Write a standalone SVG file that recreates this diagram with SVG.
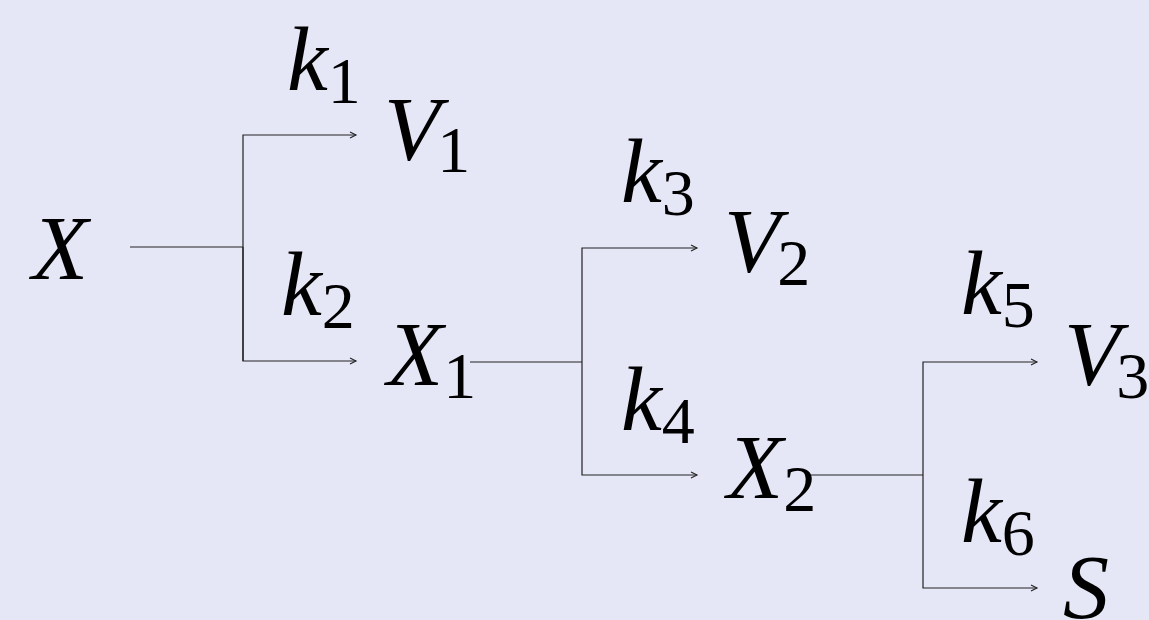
<svg xmlns="http://www.w3.org/2000/svg" width="1149" height="620" viewBox="0 0 1149 620">
<defs>
<marker id="ah" markerWidth="10" markerHeight="10" refX="7" refY="4" orient="auto" markerUnits="userSpaceOnUse">
<path d="M1,1 L7,4 L1,7" fill="none" stroke="#222" stroke-width="1.1"/>
</marker>
</defs>
<rect width="1149" height="620" fill="#e5e6f6"/>
<g id="connectors" fill="none" stroke="#222" stroke-width="1.2">
<path d="M130,247 H243"/>
<path d="M243,361 V135 H356" marker-end="url(#ah)"/>
<path d="M243,247 V361 H356" marker-end="url(#ah)"/>
<path d="M470,362 H582"/>
<path d="M582,362 V248 H697" marker-end="url(#ah)"/>
<path d="M582,362 V475 H697" marker-end="url(#ah)"/>
<path d="M810,475 H923"/>
<path d="M923,475 V362 H1037" marker-end="url(#ah)"/>
<path d="M923,475 V588 H1037" marker-end="url(#ah)"/>
</g>
<g id="node-X"><text x="32" y="279" font-family="Liberation Serif" font-style="italic" font-size="92">X</text></g>
<g id="label-k1"><text x="287" y="90" font-family="Liberation Serif" font-style="italic" font-size="92">k<tspan font-style="normal" font-size="66" dy="13">1</tspan></text></g>
<g id="node-V1"><text x="384" y="160" font-family="Liberation Serif" font-style="italic" font-size="92">V<tspan font-style="normal" font-size="66" dx="-3" dy="12">1</tspan></text></g>
<g id="label-k2"><text x="281" y="315" font-family="Liberation Serif" font-style="italic" font-size="92">k<tspan font-style="normal" font-size="66" dy="13">2</tspan></text></g>
<g id="node-X1"><text x="387" y="385" font-family="Liberation Serif" font-style="italic" font-size="92">X<tspan font-style="normal" font-size="66" dy="13">1</tspan></text></g>
<g id="label-k3"><text x="621" y="202" font-family="Liberation Serif" font-style="italic" font-size="92">k<tspan font-style="normal" font-size="66" dy="13">3</tspan></text></g>
<g id="node-V2"><text x="724" y="272" font-family="Liberation Serif" font-style="italic" font-size="92">V<tspan font-style="normal" font-size="66" dx="-3" dy="13">2</tspan></text></g>
<g id="label-k4"><text x="621" y="430" font-family="Liberation Serif" font-style="italic" font-size="92">k<tspan font-style="normal" font-size="66" dy="13">4</tspan></text></g>
<g id="node-X2"><text x="727" y="498" font-family="Liberation Serif" font-style="italic" font-size="92">X<tspan font-style="normal" font-size="66" dy="13">2</tspan></text></g>
<g id="label-k5"><text x="961" y="314" font-family="Liberation Serif" font-style="italic" font-size="92">k<tspan font-style="normal" font-size="66" dy="13">5</tspan></text></g>
<g id="node-V3"><text x="1064" y="385" font-family="Liberation Serif" font-style="italic" font-size="92">V<tspan font-style="normal" font-size="66" dx="-4" dy="13">3</tspan></text></g>
<g id="label-k6"><text x="961" y="542" font-family="Liberation Serif" font-style="italic" font-size="92">k<tspan font-style="normal" font-size="66" dy="13">6</tspan></text></g>
<g id="node-S"><text x="1063" y="618" font-family="Liberation Serif" font-style="italic" font-size="92">S</text></g>
</svg>
